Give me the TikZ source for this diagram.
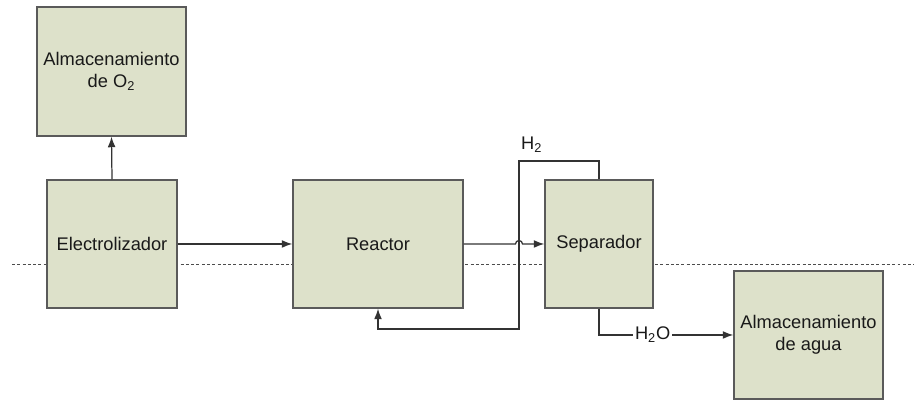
\documentclass[tikz,border=0pt]{standalone}
\usepackage{fontspec}
\setmainfont{Liberation Sans}
\usepackage{tikz}
\usetikzlibrary{arrows.meta}
\usepackage{xcolor}
\definecolor{boxfill}{HTML}{DDE1CA}
\definecolor{boxline}{HTML}{5A5A5A}
\tikzset{
  unit/.style={draw=boxline,line width=0.8pt,fill=boxfill,align=center,inner sep=2pt},
  flow/.style={draw=black!80,line width=0.7pt,-{Latex[length=6pt,width=4.5pt]}},
  sep line/.style={draw=black!70,line width=0.5pt,dash pattern=on 1.7pt off 1.3pt}
}
\begin{document}
\begin{tikzpicture}[x=0.02cm,y=0.02cm,font=\fontsize{10.4}{12.5}\selectfont,text=black!90]
\useasboundingbox (0,0) rectangle (914,401);
\coordinate (dl) at (12,137); \coordinate (dr) at (914,137);
\draw[sep line] (dl)--(dr);
\node[unit,minimum width=149*0.02cm,minimum height=129*0.02cm] (o2) at (111.5,329.5){Almacenamiento\\de O\textsubscript{2}};
\node[unit,minimum width=130*0.02cm,minimum height=128*0.02cm] (elec) at (112,157){Electrolizador};
\node[unit,minimum width=170*0.02cm,minimum height=128*0.02cm] (reac) at (378,157){Reactor};
\node[unit,minimum width=108*0.02cm,minimum height=128*0.02cm] (sepa) at (599,157){Separador};
\node[unit,minimum width=149*0.02cm,minimum height=128*0.02cm] (agua) at (808.5,66){Almacenamiento\\de agua};
\coordinate (hopin) at (515.5,157);
\coordinate (h2top) at (519,240); \coordinate (h2bot) at (519,72);
\draw[flow] (elec.north)--(o2.south);
\draw[flow] (elec.east)--(reac.west);
\draw[flow] (reac.east)--(hopin) arc[start angle=180,end angle=0,radius=3.5]--(sepa.west);
\draw[flow] (sepa.north)|-(h2top) node[pos=0.92,above=1pt]{H\textsubscript{2}}--(h2bot)-|(reac.south);
\draw[flow] (sepa.south)|-(agua.west) node[pos=0.7,fill=white,inner sep=1pt]{H\textsubscript{2}O};
\end{tikzpicture}
\end{document}
